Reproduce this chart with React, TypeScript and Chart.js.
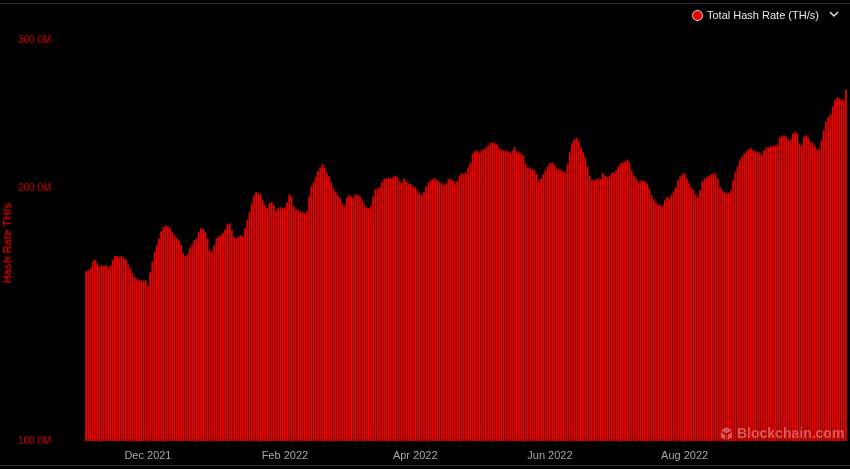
import React, { useEffect, useRef } from "react";
import { Chart, registerables } from "chart.js";

Chart.register(...registerables);

// First day of the daily series (UTC)
const START_DATE = "2021-11-03";

// Total hash rate, millions of TH/s, one value per day
const VALUES: number[] = [
  159.4, 159.8, 160.7, 163.4, 164.3, 162.9, 161.2, 162.1, 161.6, 162.1,
  160.7, 161.6, 164.3, 166.1, 166.1, 165.6, 166.1, 165.2, 164.7, 162.4,
  160.7, 158.5, 156.8, 155.9, 155.5, 155.5, 155.1, 155.5, 153.0, 158.9,
  163.4, 167.9, 171.2, 174.5, 177.8, 179.8, 180.8, 180.3, 179.3, 177.4,
  175.9, 174.5, 173.5, 171.2, 167.4, 166.1, 167.0, 169.7, 171.6, 173.5,
  174.5, 177.4, 179.3, 178.8, 177.4, 174.5, 168.8, 167.9, 171.2, 174.5,
  175.4, 175.9, 176.9, 178.8, 181.3, 181.8, 178.3, 175.0, 174.5, 175.4,
  175.9, 175.4, 179.3, 183.3, 187.3, 192.0, 196.3, 197.9, 197.4, 196.8,
  193.6, 191.0, 189.4, 192.0, 192.5, 191.0, 187.9, 189.4, 189.9, 189.4,
  189.9, 192.5, 196.8, 195.7, 190.5, 188.9, 188.4, 187.9, 187.3, 186.8,
  187.9, 195.7, 201.2, 203.4, 206.2, 209.6, 211.9, 213.7, 211.9, 208.5,
  206.8, 203.4, 200.0, 197.9, 196.3, 194.7, 192.0, 190.5, 194.7, 196.3,
  195.7, 195.2, 196.8, 196.3, 195.7, 193.6, 191.0, 189.9, 189.4, 190.5,
  195.7, 199.5, 200.0, 200.6, 203.4, 205.6, 205.6, 206.2, 205.6, 206.2,
  207.3, 206.2, 204.0, 203.4, 205.6, 204.0, 202.8, 202.3, 201.2, 200.6,
  199.0, 197.4, 196.3, 197.9, 201.2, 203.4, 204.5, 205.1, 205.6, 204.5,
  203.4, 202.8, 201.7, 202.8, 205.1, 205.6, 204.5, 202.8, 204.0, 206.8,
  208.5, 207.9, 209.0, 211.9, 214.8, 220.2, 221.4, 222.0, 220.8, 222.0,
  222.6, 223.3, 225.1, 226.4, 227.0, 226.4, 225.7, 223.3, 222.6, 222.0,
  222.0, 221.4, 220.8, 222.0, 223.9, 221.4, 220.8, 220.2, 219.0, 214.3,
  211.9, 211.3, 210.8, 210.2, 207.9, 204.0, 205.6, 207.9, 210.2, 212.5,
  214.3, 214.8, 213.1, 211.3, 210.8, 210.2, 209.6, 209.0, 213.7, 220.8,
  226.4, 228.8, 230.1, 228.2, 223.9, 220.8, 217.8, 212.5, 207.3, 204.5,
  204.5, 205.1, 205.6, 205.1, 208.5, 207.3, 206.2, 207.3, 208.5, 209.0,
  210.2, 212.5, 214.3, 214.8, 215.4, 216.6, 214.8, 210.2, 207.3, 205.6,
  203.4, 204.0, 204.5, 204.0, 202.8, 200.0, 196.3, 194.1, 192.5, 191.5,
  191.0, 190.5, 193.6, 195.2, 194.7, 196.3, 198.4, 200.6, 204.5, 206.8,
  207.9, 208.5, 205.6, 202.8, 200.6, 199.0, 196.8, 195.2, 199.0, 204.0,
  205.6, 206.2, 206.8, 207.9, 208.5, 207.9, 205.6, 200.6, 199.0, 197.9,
  197.4, 197.4, 199.0, 204.5, 209.0, 212.5, 216.0, 218.4, 220.2, 221.4,
  222.6, 223.3, 222.0, 221.4, 221.4, 220.8, 219.0, 222.0, 223.9, 223.9,
  224.5, 224.5, 225.1, 225.7, 230.1, 230.7, 231.4, 230.7, 228.2, 228.8,
  232.6, 233.3, 232.6, 226.4, 225.1, 230.7, 231.4, 230.1, 227.6, 226.4,
  224.5, 222.6, 222.6, 228.2, 234.6, 240.4, 243.1, 245.1, 250.5, 254.7,
  256.8, 256.1, 255.4, 254.7, 262.5,
];

// X-axis tick labels and the dates they sit on
const TICK_DATES = ["2021-12-01", "2022-02-01", "2022-04-01", "2022-06-01", "2022-08-01"];
const TICK_LABELS = ["Dec 2021", "Feb 2022", "Apr 2022", "Jun 2022", "Aug 2022"];

// Y-axis ticks (millions of TH/s)
const Y_TICKS = [100, 200, 300];
const Y_MIN = 100;
const Y_MAX = 330;

const SERIES_LABEL = "Total Hash Rate (TH/s)";
const BAR_COLOR = "rgb(240,0,0)";
const FONT = "'Liberation Sans', Arial, sans-serif";

function buildLabels(): string[] {
  const [y, m, d] = START_DATE.split("-").map(Number);
  const out: string[] = [];
  for (let i = 0; i < VALUES.length; i++) {
    const dt = new Date(Date.UTC(y, m - 1, d + i));
    out.push(dt.toISOString().slice(0, 10));
  }
  return out;
}

export default function App() {
  const canvasRef = useRef<HTMLCanvasElement | null>(null);

  useEffect(() => {
    document.body.style.margin = "0";
    document.body.style.background = "#000";
    const canvas = canvasRef.current;
    if (!canvas) return;
    const labels = buildLabels();
    const chart = new Chart(canvas, {
      type: "bar",
      data: {
        labels,
        datasets: [
          {
            label: SERIES_LABEL,
            data: VALUES,
            backgroundColor: BAR_COLOR,
            borderWidth: 0,
            barPercentage: 0.8,
            categoryPercentage: 1,
          },
        ],
      },
      options: {
        animation: false,
        responsive: false,
        maintainAspectRatio: false,
        layout: { padding: { left: 18, right: 3, top: 0, bottom: 0 } },
        plugins: {
          legend: { display: false },
          tooltip: { enabled: false },
        },
        scales: {
          x: {
            grid: { display: false, drawTicks: false },
            border: { display: false },
            afterFit: (axis: any) => {
              axis.height = 28;
              axis.paddingLeft = 0;
              axis.paddingRight = 0;
            },
            ticks: {
              autoSkip: false,
              maxRotation: 0,
              minRotation: 0,
              padding: 8,
              color: "#a6a6a6",
              font: { family: FONT, size: 11 },
              callback: function (this: any, value: any) {
                const lbl = this.getLabelForValue(value);
                const k = TICK_DATES.indexOf(lbl);
                return k >= 0 ? TICK_LABELS[k] : "";
              },
            },
          },
          y: {
            type: "logarithmic",
            min: Y_MIN,
            max: Y_MAX,
            afterBuildTicks: (axis: any) => {
              axis.ticks = Y_TICKS.map((v) => ({ value: v }));
            },
            afterFit: (axis: any) => {
              axis.width = 67;
            },
            grid: { display: false, drawTicks: false },
            border: { display: false },
            ticks: {
              padding: 0,
              crossAlign: "far",
              color: "#c80000",
              font: { family: FONT, size: 10 },
              callback: (v: any) => Number(v).toFixed(1) + "M",
            },
          },
        },
      },
    });
    return () => chart.destroy();
  }, []);

  return (
    <div
      style={{
        position: "relative",
        width: 850,
        height: 469,
        background: "#000",
        overflow: "hidden",
        fontFamily: FONT,
      }}
    >
      <canvas ref={canvasRef} width={850} height={469} style={{ display: "block" }} />
      <div style={{ position: "absolute", left: 0, right: 0, top: 3, height: 1, background: "#2e2e2e" }} />
      <div style={{ position: "absolute", left: 0, right: 0, top: 465, height: 1, background: "#2e2e2e" }} />
      <div
        style={{
          position: "absolute",
          left: 7,
          top: 243,
          transform: "translate(-50%, -50%) rotate(-90deg)",
          whiteSpace: "nowrap",
          color: "#c80000",
          fontSize: 11,
          fontWeight: 700,
        }}
      >
        Hash Rate TH/s
      </div>
      <div
        style={{
          position: "absolute",
          left: 692,
          top: 9,
          display: "flex",
          alignItems: "center",
          whiteSpace: "nowrap",
          color: "#e8e8e8",
          fontSize: 11,
        }}
      >
        <span
          style={{
            display: "inline-block",
            width: 9,
            height: 9,
            borderRadius: "50%",
            background: "rgb(230,0,0)",
            border: "1px solid #f4d0d0",
            marginRight: 4,
          }}
        />
        <span>{SERIES_LABEL}</span>
        <svg width="10" height="8" style={{ marginLeft: 10, marginTop: -3 }}>
          <polyline points="1,2 5,6 9,2" fill="none" stroke="#e8e8e8" strokeWidth="1.4" />
        </svg>
      </div>
      <div
        style={{
          position: "absolute",
          left: 719,
          top: 425,
          display: "flex",
          alignItems: "center",
          whiteSpace: "nowrap",
          color: "rgba(255,255,255,0.35)",
          fontSize: 14,
          fontWeight: 700,
        }}
      >
        <svg width="15" height="15" viewBox="0 0 16 16" style={{ marginRight: 3 }}>
          <polygon points="8,1 14,4.5 8,8 2,4.5" fill="rgba(255,255,255,0.35)" />
          <polygon points="2,6.5 7,9.5 7,15 2,12" fill="rgba(255,255,255,0.35)" />
          <polygon points="14,6.5 9,9.5 9,15 14,12" fill="rgba(255,255,255,0.35)" />
        </svg>
        <span>Blockchain.com</span>
      </div>
    </div>
  );
}
